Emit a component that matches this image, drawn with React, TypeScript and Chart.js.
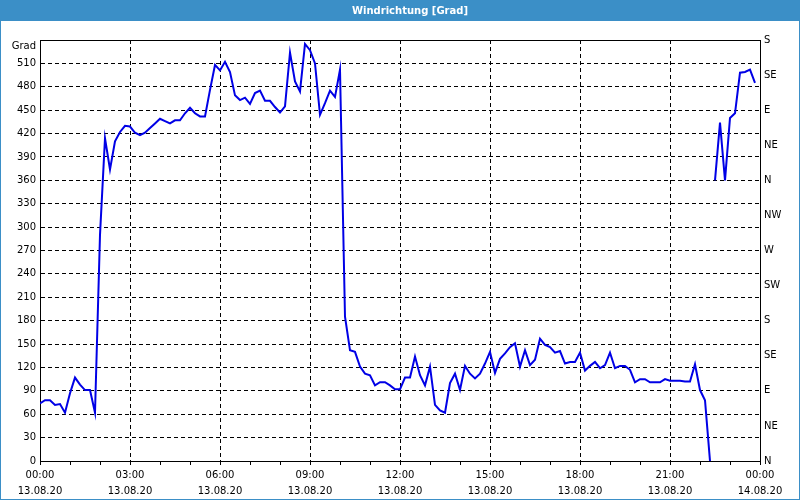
import React, { useEffect, useRef } from "react";
import { Chart, registerables } from "chart.js";

Chart.register(...registerables);

// Wind direction in degrees, one sample every 10 minutes from 00:00 (13.08.20)
const SAMPLE_STEP_MIN = 10;
const directionDay: number[] = [
  74, 78, 78, 72, 73, 62, 87, 107, 98, 91,
  91, 62, 290, 414, 374, 410, 422, 430, 429, 421,
  418, 421, 427, 433, 439, 436, 433, 437, 437, 446,
  453, 446, 442, 442, 476, 508, 501, 512, 499, 469,
  463, 466, 458, 472, 475, 462, 462, 454, 447, 455,
  524, 487, 474, 535, 527, 510, 444, 459, 475, 467,
  502, 185, 142, 140, 121, 112, 110, 97, 101, 101,
  97, 92, 92, 107, 107, 134, 110, 97, 121, 72,
  65, 62, 100, 112, 91, 122, 112, 106, 112, 125,
  140, 113, 131, 138, 146, 151, 121, 142, 123, 130,
  157, 149, 146, 139, 141, 125, 127, 127, 139, 116,
  122, 127, 119, 123, 139, 119, 122, 122, 117, 101,
  105, 105, 101, 101, 101, 105, 103, 103, 103, 102,
  102, 124, 91, 78, 0,
];
// After the wrap through north the trace restarts at 360+
const WRAP_START_INDEX = 135;
const directionAfterWrap: number[] = [360, 434, 360, 440, 446, 498, 499, 502, 485];

const xTickTimes = ["00:00", "03:00", "06:00", "09:00", "12:00", "15:00", "18:00", "21:00", "00:00"];
const xTickDates = ["13.08.20", "13.08.20", "13.08.20", "13.08.20", "13.08.20", "13.08.20", "13.08.20", "13.08.20", "14.08.20"];
const compassLabels = ["N", "NE", "E", "SE", "S", "SW", "W", "NW", "N", "NE", "E", "SE", "S"];
const TITLE = "Windrichtung [Grad]";
const Y_UNIT = "Grad";

const LINE_BLUE = "#0000e6";
const BAR_BLUE = "#3b8fc7";

export default function App() {
  const ref = useRef<HTMLCanvasElement>(null);

  useEffect(() => {
    document.body.style.margin = "0";
    const canvas = ref.current;
    if (!canvas) return;
    const font = { family: "DejaVu Sans", size: 10 };

    const framePlugin = {
      id: "frame",
      beforeDraw(chart: any) {
        const { ctx, width, height } = chart;
        ctx.save();
        ctx.fillStyle = "#ffffff";
        ctx.fillRect(0, 0, width, height);
        ctx.fillStyle = BAR_BLUE;
        ctx.fillRect(0, 0, width, 21);
        ctx.fillStyle = "#ffffff";
        ctx.font = "bold 10px 'DejaVu Sans'";
        ctx.textAlign = "center";
        ctx.textBaseline = "middle";
        ctx.fillText(TITLE, 410, 11);
        ctx.restore();
      },
      beforeDatasetsDraw(chart: any) {
        const { ctx, chartArea } = chart;
        ctx.save();
        ctx.strokeStyle = "#000";
        ctx.lineWidth = 1;
        ctx.beginPath();
        ctx.moveTo(chartArea.left, chartArea.top + 0.5);
        ctx.lineTo(chartArea.right + 1, chartArea.top + 0.5);
        ctx.stroke();
        ctx.fillStyle = "#000";
        ctx.font = "10px 'DejaVu Sans'";
        ctx.textAlign = "right";
        ctx.textBaseline = "middle";
        ctx.fillText(Y_UNIT, chartArea.left - 4, chartArea.top + 6);
        ctx.restore();
      },
      afterDraw(chart: any) {
        const { ctx, width, height } = chart;
        ctx.save();
        ctx.strokeStyle = BAR_BLUE;
        ctx.lineWidth = 1;
        ctx.strokeRect(0.5, 0.5, width - 1, height - 1);
        ctx.restore();
      },
    };

    const chart = new Chart(canvas, {
      type: "line",
      data: {
        datasets: [
          {
            data: directionDay.map((v, i) => ({ x: i * SAMPLE_STEP_MIN, y: v })),
            borderColor: LINE_BLUE,
            borderWidth: 2,
            pointRadius: 0,
            tension: 0,
            fill: false,
          },
          {
            data: directionAfterWrap.map((v, i) => ({ x: (WRAP_START_INDEX + i) * SAMPLE_STEP_MIN, y: v })),
            borderColor: LINE_BLUE,
            borderWidth: 2,
            pointRadius: 0,
            tension: 0,
            fill: false,
          },
        ],
      },
      options: {
        animation: false,
        responsive: false,
        devicePixelRatio: 1,
        events: [],
        layout: { padding: { top: 40, left: 0, right: 0, bottom: 0 } },
        plugins: {
          legend: { display: false },
          title: { display: false },
          tooltip: { enabled: false },
        },
        scales: {
          x: {
            type: "linear",
            min: 0,
            max: 1440,
            afterFit: (s: any) => {
              s.height = 39;
            },
            ticks: {
              stepSize: 60,
              autoSkip: false,
              maxRotation: 0,
              minRotation: 0,
              padding: 2,
              color: "#000",
              font: { ...font, lineHeight: "16px" },
              callback: (v: any) => {
                const n = Number(v);
                if (n % 180 !== 0) return "";
                const i = n / 180;
                return [xTickTimes[i], xTickDates[i]];
              },
            },
            grid: {
              color: (c: any) => (c.tick && c.tick.value % 180 === 0 ? "#000" : "rgba(0,0,0,0)"),
              tickColor: "#000",
              tickLength: 4,
              lineWidth: 1,
            },
            border: { display: true, color: "#000", width: 1, dash: [4, 3] },
          },
          y: {
            type: "linear",
            position: "left",
            min: 0,
            max: 540,
            afterFit: (s: any) => {
              s.width = 40;
            },
            ticks: {
              stepSize: 30,
              autoSkip: false,
              padding: 4,
              color: "#000",
              font,
              callback: (v: any) => (Number(v) === 540 ? "" : String(v)),
            },
            grid: { color: "#000", drawTicks: false, lineWidth: 1 },
            border: { display: true, color: "#000", width: 1, dash: [4, 3] },
          },
          y1: {
            type: "linear",
            position: "right",
            min: 0,
            max: 540,
            afterFit: (s: any) => {
              s.width = 40;
            },
            ticks: {
              stepSize: 45,
              autoSkip: false,
              padding: 4,
              color: "#000",
              font,
              callback: (v: any) => compassLabels[Math.round(Number(v) / 45)] ?? "",
            },
            grid: { drawOnChartArea: false, drawTicks: false },
            border: { display: true, color: "#000", width: 1 },
          },
        },
      } as any,
      plugins: [framePlugin],
    });

    return () => chart.destroy();
  }, []);

  return <canvas ref={ref} width={800} height={500} style={{ display: "block" }} />;
}
